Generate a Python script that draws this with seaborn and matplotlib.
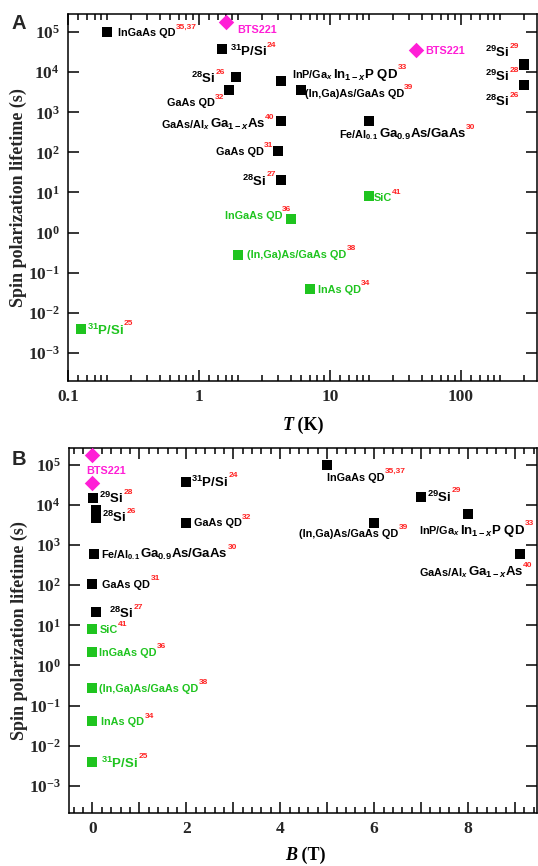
import numpy as np
import pandas as pd
import matplotlib
matplotlib.use("Agg")
import matplotlib.pyplot as plt
import matplotlib.transforms as mtransforms
from matplotlib.ticker import (FixedLocator, FuncFormatter, MultipleLocator, NullLocator,
                               NullFormatter)
import seaborn as sns

# ---------------- data ----------------
# Panel A: lifetime versus temperature
a_ids = ["ingaas_3537", "bts221", "bts221", "p31_24", "si28_26", "gaas_32",
         "inp_33", "ingaas_39", "algaas_40", "gaas_31", "si28_27", "fe_30",
         "si29_29", "si29_28", "si28_26", "sic_41", "ingaas_36", "ingaas_38",
         "inas_34", "p31_25"]
a_temp = [0.2, 1.6, 45, 1.5, 1.9, 1.7, 4.2, 6.0, 4.2, 4.0, 4.2, 20,
          300, 300, 300, 20, 5.0, 2.0, 7.0, 0.125]
a_life = [1.0e5, 1.8e5, 3.6e4, 3.8e4, 7.5e3, 3.5e3, 6.0e3, 3.6e3, 600, 110, 21, 600,
          1.6e4, 1.5e4, 4.7e3, 8.0, 2.2, 0.28, 0.04, 0.004]
a_group = ["black", "magenta", "magenta", "black", "black", "black", "black",
           "black", "black", "black", "black", "black", "black", "black",
           "black", "green", "green", "green", "green", "green"]

# Panel B: lifetime versus magnetic field
b_ids = ["bts221", None, "si29_28", None, "si28_26", "fe_30", "gaas_31",
         "si28_27", "sic_41", "ingaas_36", "ingaas_38", "inas_34", "p31_25",
         "p31_24", "gaas_32", "ingaas_3537", "si29_29", "inp_33", "ingaas_39",
         "algaas_40"]
b_field = [0, 0, 0.02, 0.08, 0.08, 0.04, 0, 0.08, 0, 0, 0, 0, 0,
           2.0, 2.0, 5.0, 7.0, 8.0, 6.0, 9.1]
b_life = [1.8e5, 3.6e4, 1.5e4, 7.5e3, 4.7e3, 600, 110, 21, 8.0, 2.2, 0.28, 0.04,
          0.004, 3.8e4, 3.5e3, 1.0e5, 1.6e4, 6.0e3, 3.6e3, 600]
b_group = ["magenta", "magenta", "black", "black", "black", "black", "black",
           "black", "green", "green", "green", "green", "green", "black",
           "black", "black", "black", "black", "black", "black"]

# Label texts: body segments (text, size key) and reference number
LABEL_TEXT = {
    "ingaas_3537": ([("InGaAs QD", "s")], "35,37"),
    "bts221": ([("BTS221", "s")], ""),
    "p31_24": ([("$^{31}$P/Si", "l")], "24"),
    "si28_26": ([("$^{28}$Si", "l")], "26"),
    "gaas_32": ([("GaAs QD", "s")], "32"),
    "inp_33": ([(r"InP/Ga$_{\mathit{x}}$", "s"), (r"In$_{1-\mathit{x}}$P QD", "l")], "33"),
    "ingaas_39": ([("(In,Ga)As/GaAs QD", "s")], "39"),
    "algaas_40": ([(r"GaAs/Al$_{\mathit{x}}$", "s"), (r"Ga$_{1-\mathit{x}}$As", "l")], "40"),
    "gaas_31": ([("GaAs QD", "s")], "31"),
    "si28_27": ([("$^{28}$Si", "l")], "27"),
    "fe_30": ([("Fe/Al$_{0.1}$", "s"), ("Ga$_{0.9}$As/GaAs", "l")], "30"),
    "si29_29": ([("$^{29}$Si", "l")], "29"),
    "si29_28": ([("$^{29}$Si", "l")], "28"),
    "sic_41": ([("SiC", "s")], "41"),
    "ingaas_36": ([("InGaAs QD", "s")], "36"),
    "ingaas_38": ([("(In,Ga)As/GaAs QD", "s")], "38"),
    "inas_34": ([("InAs QD", "s")], "34"),
    "p31_25": ([("$^{31}$P/Si", "l")], "25"),
}

a_ticks_x = [0.1, 1, 10, 100]
b_ticks_x = [0, 2, 4, 6, 8]
y_exponents = [-3, -2, -1, 0, 1, 2, 3, 4, 5]

# ---------------- layout / style ----------------
# label offsets in pixels: (dx right, dy down of baseline, alignment)
A_POS = [(11, 4, "left"), (11, 11, "left"), (10, 4, "left"), (8, 7, "left"),
         (-11, 6, "right"), (-5, 16, "right"), (11, -3, "left"), (4, 7, "left"),
         (-6, 7, "right"), (-5, 4, "right"), (-5, 6, "right"), (-30, 17, "left"),
         (-5, -7, "right"), (-5, 16, "right"), (-5, 21, "right"), (4, 5, "left"),
         (1, 0, "right"), (9, 3, "left"), (8, 4, "left"), (6, 6, "left")]
B_POS = [(-6, 19, "left"), None, (6, 5, "left"), None, (6, 4, "left"),
         (7, 4, "left"), (10, 4, "left"), (13, 6, "left"), (7, 4, "left"),
         (7, 4, "left"), (7, 4, "left"), (9, 4, "left"), (9, 6, "left"),
         (5, 5, "left"), (8, 3, "left"), (0, 16, "left"), (6, 5, "left"),
         (-49, 20, "left"), (-75, 14, "left"), (-101, 22, "left")]

SANS = "Liberation Sans"
SERIF = "Liberation Serif"
COLORS = {"black": "#000000", "green": "#1fc41f", "magenta": "#ff1fd6"}
RED = "#ff2222"
SIZE = {"s": 7.8, "l": 9.5, "r": 6.0}
MARKERS = {"black": ("s", 50), "green": ("s", 50), "magenta": ("D", 62)}

sns.set_style("ticks")
plt.rcParams["font.family"] = [SERIF, "DejaVu Serif"]
plt.rcParams["font.weight"] = "bold"
plt.rcParams["mathtext.fontset"] = "custom"
plt.rcParams["mathtext.it"] = "Liberation Sans:italic:bold"
plt.rcParams["mathtext.default"] = "regular"
plt.rcParams["axes.linewidth"] = 1.1

W, H = 538, 866
fig = plt.figure(figsize=(W / 100, H / 100), dpi=100)
axA = fig.add_axes([68 / W, 1 - 381 / H, (537 - 68) / W, (381 - 14) / H])
axB = fig.add_axes([69 / W, 1 - 813 / H, (537 - 69) / W, (813 - 448) / H])
renderer = fig.canvas.get_renderer()


def place_pieces(ax, x, y, pieces, dx, dy, ha, trans):
    """Lay text pieces side by side starting from a pixel offset of (x, y)."""
    objs = []
    for txt, props, rise in pieces:
        t = ax.text(x, y, txt, ha="left", va="baseline", transform=trans,
                    clip_on=False, zorder=4, **props)
        objs.append((t, rise))
    widths = [t.get_window_extent(renderer).width for t, _ in objs]
    total = sum(widths)
    cur = {"left": dx, "right": dx - total, "center": dx - total / 2}[ha]
    for (t, rise), w in zip(objs, widths):
        t.set_transform(mtransforms.offset_copy(trans, fig=fig, x=cur, y=-dy + rise,
                                                units="dots"))
        cur += w


def annotate_point(ax, x, y, label_id, group, pos):
    segs, ref = LABEL_TEXT[label_id]
    color = COLORS[group]
    pieces = [(txt, dict(family=SANS, weight="bold", fontsize=SIZE[k], color=color), 0)
              for txt, k in segs]
    if ref:
        pieces.append((ref, dict(family=SANS, weight="bold", fontsize=SIZE["r"], color=RED),
                       SIZE[segs[-1][1]] * 0.98))
    dx, dy, ha = pos
    place_pieces(ax, x, y, pieces, dx, dy, ha, ax.transData)


def draw_panel(ax, df, xcol, positions):
    for grp, (marker, s) in MARKERS.items():
        sub = df[df["group"] == grp]
        sns.scatterplot(data=sub, x=xcol, y="life", marker=marker, s=s,
                        color=COLORS[grp], linewidth=0, ax=ax, legend=False, zorder=3)
    for (i, row), pos in zip(df.iterrows(), positions):
        if row["label"] is not None and pos is not None:
            annotate_point(ax, row[xcol], row["life"], row["label"], row["group"], pos)


dfA = pd.DataFrame({"label": a_ids, "T": a_temp, "life": a_life, "group": a_group})
dfB = pd.DataFrame({"label": b_ids, "B": b_field, "life": b_life, "group": b_group})

ylab = "Spin polarization lifetime (s)"
yfmt = FuncFormatter(lambda v, p: "$10^{%d}$" % int(round(np.log10(v))))

for ax in (axA, axB):
    ax.set_yscale("log")
axA.set_xscale("log")

draw_panel(axA, dfA, "T", A_POS)
draw_panel(axB, dfB, "B", B_POS)

for ax in (axA, axB):
    ax.yaxis.set_major_locator(FixedLocator([10.0 ** e for e in y_exponents]))
    ax.yaxis.set_minor_locator(NullLocator())
    ax.yaxis.set_major_formatter(yfmt)
    ax.yaxis.set_minor_formatter(NullFormatter())
    ax.set_ylabel(ylab, fontsize=13, fontweight="bold", family=SERIF)
    ax.yaxis.set_label_coords(-0.088, 0.5)
    ax.set_xlabel("")
    ax.tick_params(which="both", direction="in", top=True, right=True, width=1.1,
                   color="black", labelsize=12.5, pad=6)
    ax.tick_params(which="major", length=8)
    ax.tick_params(which="minor", length=4)
    for sp in ax.spines.values():
        sp.set_visible(True)
        sp.set_color("black")

# panel A axes
axA.set_xlim(0.1, 380)
axA.set_ylim(10 ** -3.7, 10 ** 5.45)
axA.xaxis.set_major_locator(FixedLocator(a_ticks_x))
axA.xaxis.set_major_formatter(FuncFormatter(lambda v, p: ("%g" % v)))
minorA = [d * m for d in (0.1, 1, 10, 100) for m in (1.2, 1.4, 1.6, 1.8, 2, 3, 4, 5, 6, 7, 8, 9)
          if d * m < 380]
axA.xaxis.set_minor_locator(FixedLocator(minorA))
axA.xaxis.set_minor_formatter(NullFormatter())

# panel B axes
axB.set_xlim(-0.5, 9.47)
axB.set_ylim(10 ** -3.68, 10 ** 5.42)
axB.xaxis.set_major_locator(MultipleLocator(1))
axB.xaxis.set_minor_locator(MultipleLocator(0.2))
axB.xaxis.set_minor_formatter(NullFormatter())
axB.xaxis.set_major_formatter(
    FuncFormatter(lambda v, p: "%d" % round(v) if round(v) in b_ticks_x else ""))

# axis titles with italic variable symbol
serif_it = dict(family=SERIF, weight="bold", style="italic", fontsize=13, color="black")
serif_bf = dict(family=SERIF, weight="bold", fontsize=13, color="black")
place_pieces(axA, 303 / W, 1 - 430 / H, [("T", serif_it, 0), (" (K)", serif_bf, 0)],
             0, 0, "center", fig.transFigure)
place_pieces(axB, 305 / W, 1 - 860 / H, [("B", serif_it, 0), (" (T)", serif_bf, 0)],
             0, 0, "center", fig.transFigure)

# panel letters
fig.text(12 / W, 1 - 29 / H, "A", family=SANS, weight="bold", fontsize=14.5, va="baseline")
fig.text(12 / W, 1 - 465 / H, "B", family=SANS, weight="bold", fontsize=14.5, va="baseline")

fig.savefig("out.png", dpi=100, facecolor="white")
